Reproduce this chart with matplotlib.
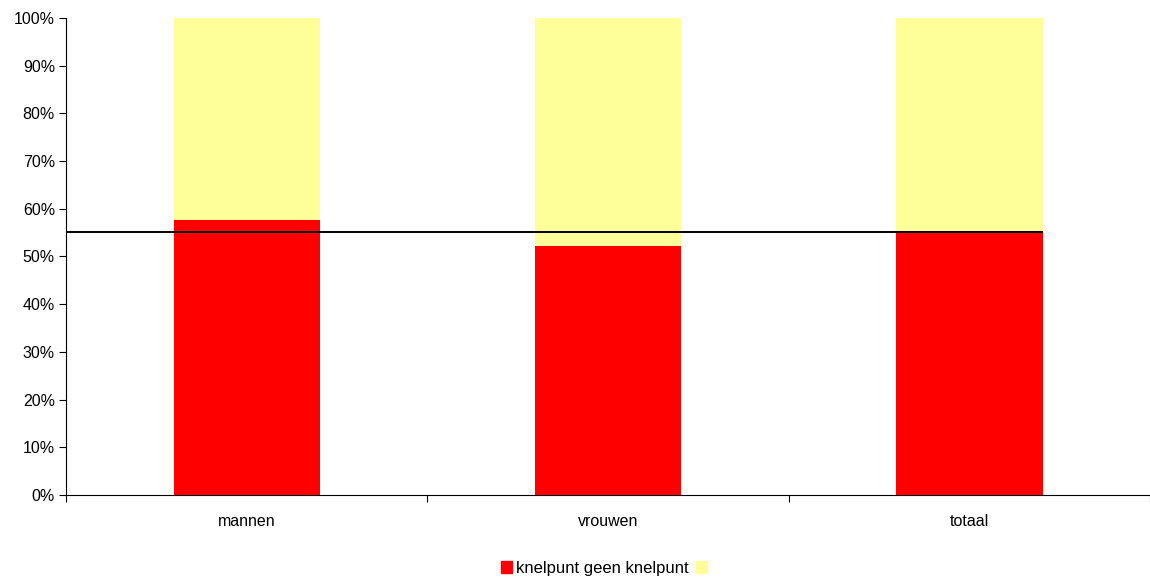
import matplotlib.pyplot as plt
from matplotlib.patches import Patch
from matplotlib.ticker import PercentFormatter

plt.rcParams['font.family'] = ['Liberation Sans', 'DejaVu Sans']

categories = ['mannen', 'vrouwen', 'totaal']
knelpunt = [0.577, 0.522, 0.549]
geen_knelpunt = [1 - v for v in knelpunt]
gemiddelde = 0.551

fig = plt.figure(figsize=(11.5, 5.79), dpi=100)
ax = fig.add_axes([0.0574, 0.145, 0.9426, 0.824])

x = list(range(len(categories)))
ax.bar(x, knelpunt, width=0.405, color='#FF0000')
ax.bar(x, geen_knelpunt, width=0.405, bottom=knelpunt, color='#FFFF99')
ax.plot([-0.5, 2.2], [gemiddelde, gemiddelde], color='black', lw=1.4)

ax.set_xlim(-0.5, 2.5)
ax.set_ylim(0, 1)
ax.set_yticks([i / 10 for i in range(11)])
ax.yaxis.set_major_formatter(PercentFormatter(1.0, decimals=0))
ax.set_xticks([-0.5, 0.5, 1.5, 2.5])
ax.set_xticklabels([])
ax.set_xticks(x, minor=True)
ax.set_xticklabels(categories, minor=True)
ax.tick_params(axis='x', which='minor', length=0, pad=14, labelsize=11.5)
ax.tick_params(axis='x', which='major', length=5, direction='out')
ax.tick_params(axis='y', length=5, direction='out', labelsize=11.5, pad=3)

for s in ['top', 'right']:
    ax.spines[s].set_visible(False)

handles = [Patch(color='#FF0000'), Patch(color='#FFFF99')]
fig.legend(handles, ['knelpunt geen knelpunt', ''], loc='center', bbox_to_anchor=(0.527, 0.018),
           ncol=2, frameon=False, fontsize=12, handlelength=0.7, handleheight=0.7,
           handletextpad=0.25, columnspacing=0.4)

fig.savefig('out.png', dpi=100)
